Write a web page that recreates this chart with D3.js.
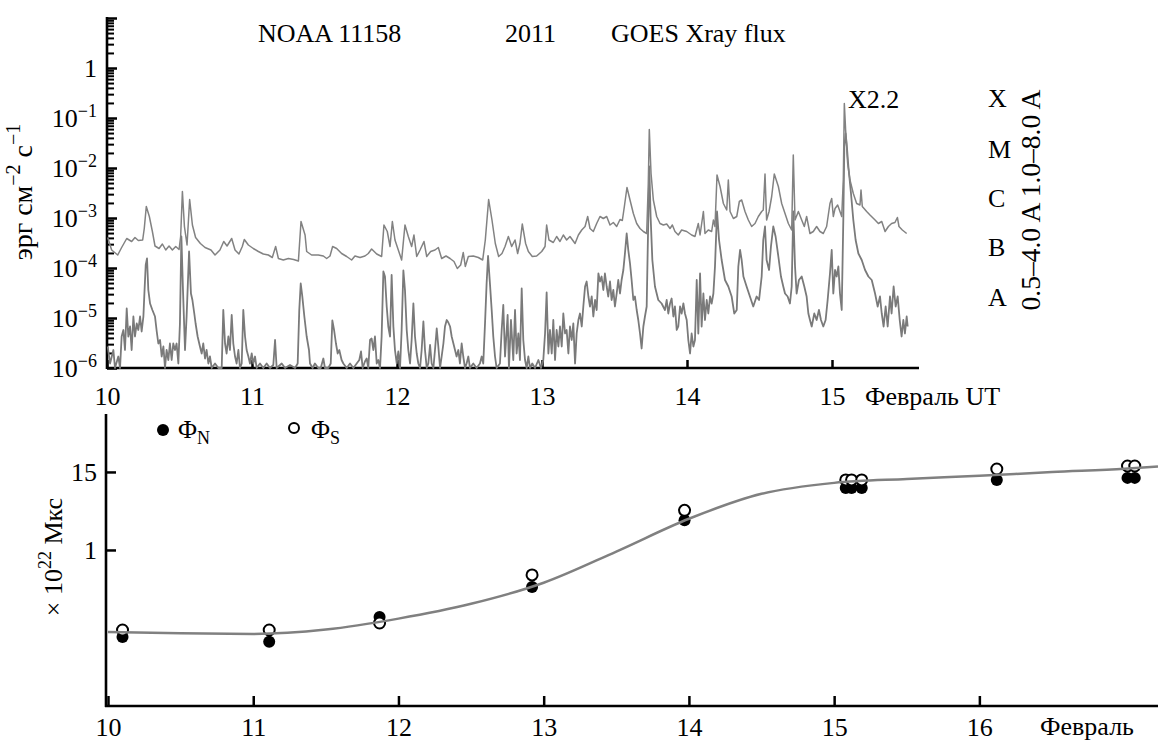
<!DOCTYPE html>
<html><head><meta charset="utf-8">
<script src="https://cdnjs.cloudflare.com/ajax/libs/d3/7.8.5/d3.min.js"></script>
<style>
body{margin:0;background:#fff}
text{font-family:"Liberation Serif","Times New Roman",serif;fill:#000}
</style>
</head><body>
<svg id="chart" width="1158" height="745"></svg>
<script>
// ---------- GOES X-ray flux, 1.0-8.0 A channel (day of Feb 2011, log10 flux erg cm^-2 s^-1)
const longDays = [10.005,10.032,10.074,10.101,10.136,10.170,10.193,10.216,10.246,10.257,10.271,10.292,10.313,10.331,10.359,10.382,10.405,10.428,10.451,10.474,10.497,10.508,10.520,10.534,10.552,10.570,10.589,10.611,10.644,10.676,10.717,10.745,10.779,10.805,10.828,10.860,10.883,10.910,10.933,10.947,10.975,11.009,11.044,11.078,11.113,11.140,11.163,11.182,11.216,11.251,11.287,11.320,11.338,11.366,
11.377,11.411,11.457,11.492,11.515,11.538,11.556,11.584,11.618,11.653,11.687,11.710,11.745,11.779,11.802,11.825,11.860,11.894,11.910,11.933,11.952,11.968,11.986,12.009,12.032,12.055,12.078,12.101,12.117,12.136,12.159,12.186,12.205,12.232,12.262,12.285,12.308,12.338,12.366,12.393,12.416,12.439,12.457,12.471,12.492,12.526,12.561,12.591,12.609,12.632,12.655,12.678,12.701,12.724,
12.745,12.768,12.791,12.814,12.832,12.848,12.864,12.887,12.906,12.933,12.963,12.998,13.021,13.032,13.048,13.078,13.101,13.124,13.147,13.170,13.193,13.228,13.251,13.274,13.297,13.315,13.331,13.354,13.377,13.400,13.423,13.446,13.469,13.492,13.515,13.538,13.554,13.568,13.586,13.607,13.630,13.653,13.676,13.699,13.722,13.733,13.740,13.752,13.768,13.791,13.814,13.837,13.860,13.883,13.899,13.917,13.940,13.963,13.998,14.032,14.055,
14.078,14.090,14.113,14.124,14.147,14.170,14.182,14.193,14.207,14.228,14.251,14.274,14.285,14.297,14.320,14.343,14.361,14.377,14.400,14.423,14.446,14.469,14.492,14.515,14.526,14.538,14.549,14.566,14.584,14.602,14.630,14.653,14.676,14.699,14.722,14.733,14.745,14.768,14.791,14.809,14.825,14.848,14.871,14.894,14.917,14.940,14.963,14.986,14.998,15.009,15.021,15.039,15.055,15.067,15.078,15.085,15.094,15.108,15.124,15.147,15.170,15.193,15.200,15.209,15.239,15.262,15.297,15.320,15.343,15.366,15.389,15.411,15.434,15.451,15.462,15.485,15.515];
const longLog = [-3.39,-3.64,-3.74,-3.59,-3.41,-3.47,-3.39,-3.45,-3.44,-3.21,-2.77,-2.97,-3.27,-3.56,-3.61,-3.52,-3.64,-3.56,-3.64,-3.57,-3.63,-3.37,-2.47,-3.17,-3.54,-2.63,-3.14,-3.39,-3.51,-3.59,-3.64,-3.74,-3.64,-3.47,-3.56,-3.41,-3.64,-3.72,-3.57,-3.43,-3.54,-3.61,-3.67,-3.72,-3.74,-3.79,-3.57,-3.81,-3.84,-3.81,-3.83,-3.86,-3.07,-3.34,
-3.67,-3.74,-3.74,-3.76,-3.81,-3.76,-3.57,-3.61,-3.71,-3.77,-3.84,-3.76,-3.79,-3.76,-3.71,-3.62,-3.72,-3.77,-3.14,-3.27,-3.57,-3.07,-3.44,-3.64,-3.84,-3.14,-3.37,-3.57,-3.34,-3.77,-3.64,-3.47,-3.77,-3.67,-3.64,-3.59,-3.81,-3.76,-3.81,-3.87,-4.01,-3.94,-3.69,-3.97,-3.77,-3.76,-3.79,-3.84,-3.44,-2.63,-3.04,-3.51,-3.77,-3.71,
-3.57,-3.37,-3.57,-3.44,-3.71,-3.51,-3.12,-3.51,-3.67,-3.77,-3.76,-3.67,-3.57,-3.14,-3.44,-3.49,-3.37,-3.47,-3.34,-3.44,-3.37,-3.51,-3.34,-3.24,-3.17,-2.97,-3.21,-3.27,-3.11,-2.97,-3.01,-2.97,-3.14,-3.09,-3.17,-3.03,-3.05,-2.77,-2.39,-2.64,-2.91,-3.11,-3.21,-3.27,-3.31,-2.31,-1.23,-2.11,-2.64,-2.97,-3.11,-3.14,-3.12,-3.21,-3.14,-3.27,-3.34,-3.24,-3.27,-3.34,-3.37,
-3.11,-3.34,-2.87,-3.31,-3.24,-3.27,-3.04,-3.17,-2.14,-2.37,-2.71,-2.84,-2.24,-2.87,-3.01,-2.97,-2.67,-2.64,-2.87,-3.04,-3.17,-3.11,-2.97,-2.87,-2.84,-2.12,-3.04,-2.87,-2.57,-2.12,-2.37,-2.71,-2.91,-3.11,-3.24,-1.74,-3.04,-2.87,-3.04,-3.17,-2.97,-3.31,-3.27,-3.17,-3.27,-3.31,-3.17,-2.71,-2.61,-2.97,-2.81,-2.74,-2.87,-2.97,-2.24,-0.71,-1.24,-1.91,-2.24,-2.51,-2.71,-2.74,-2.44,-2.77,-2.87,-2.94,-3.04,-3.11,-3.07,-3.27,-3.17,-3.11,-3.09,-2.99,-3.17,-3.24,-3.31];

// ---------- GOES X-ray flux, 0.5-4.0 A channel
const shortDays = [10.005,10.021,10.044,10.055,10.078,10.090,10.101,10.113,10.124,10.136,10.147,10.159,10.170,10.182,10.193,10.205,10.216,10.228,10.239,10.251,10.257,10.267,10.276,10.285,10.297,10.313,10.331,10.343,10.354,10.366,10.377,10.389,10.400,10.411,10.423,10.434,10.446,10.457,10.469,10.480,10.492,10.503,10.513,10.524,10.538,10.549,10.566,10.579,10.589,10.602,10.611,10.625,10.641,10.653,10.664,10.676,10.687,10.699,10.710,10.722,10.745,10.768,10.791,10.802,10.814,10.825,10.837,10.848,10.860,10.871,10.883,10.894,10.906,10.917,10.929,10.940,10.952,10.963,10.975,10.986,10.998,11.009,11.021,11.032,11.055,11.078,11.101,11.124,11.147,11.159,11.170,11.205,11.228,11.262,11.297,11.315,11.326,11.336,11.347,11.361,11.377,11.393,
11.400,11.418,11.434,11.457,11.474,11.492,11.503,11.526,11.543,11.554,11.566,11.579,11.591,11.602,11.618,11.630,11.653,11.676,11.699,11.722,11.740,11.752,11.763,11.779,11.791,11.802,11.814,11.825,11.837,11.848,11.860,11.871,11.883,11.894,11.906,11.917,11.929,11.940,11.952,11.963,11.975,11.986,11.998,12.009,12.021,12.032,12.044,12.055,12.067,12.078,12.090,12.101,12.113,12.124,12.136,12.147,12.159,12.170,12.182,12.193,12.205,12.216,12.228,12.239,12.251,12.262,12.274,12.285,12.297,12.308,12.320,12.331,12.343,12.354,12.366,12.377,12.389,12.400,12.411,12.423,12.434,12.446,12.457,12.469,12.480,12.492,12.503,12.526,12.549,12.572,12.584,12.595,12.607,12.618,12.628,12.641,12.653,12.664,12.676,12.687,12.710,12.722,12.733,
12.745,12.763,12.772,12.786,12.802,12.814,12.825,12.837,12.848,12.860,12.871,12.883,12.894,12.906,12.917,12.933,12.952,12.975,12.993,13.009,13.021,13.032,13.044,13.055,13.067,13.078,13.090,13.101,13.113,13.124,13.136,13.147,13.159,13.170,13.182,13.193,13.205,13.216,13.228,13.239,13.251,13.262,13.274,13.285,13.297,13.308,13.320,13.331,13.343,13.354,13.366,13.377,13.389,13.400,13.411,13.423,13.434,13.446,13.457,13.469,13.480,13.492,13.503,13.515,13.526,13.538,13.549,13.561,13.572,13.584,13.595,13.607,13.618,13.630,13.641,13.653,13.664,13.676,13.687,13.699,13.710,13.722,13.729,13.736,13.740,13.749,13.761,13.779,13.802,13.825,13.848,13.860,13.871,13.883,13.894,13.906,13.917,13.929,13.940,13.952,13.963,13.975,13.986,13.998,14.009,14.021,14.032,14.044,14.055,
14.067,14.078,14.090,14.101,14.113,14.124,14.136,14.147,14.159,14.170,14.182,14.193,14.207,14.221,14.239,14.262,14.285,14.308,14.326,14.343,14.354,14.366,14.377,14.389,14.411,14.434,14.457,14.480,14.497,14.515,14.526,14.538,14.549,14.566,14.579,14.595,14.611,14.630,14.648,14.664,14.676,14.694,14.710,14.722,14.733,14.745,14.756,14.772,14.791,14.809,14.825,14.837,14.848,14.860,14.878,14.894,14.910,14.924,14.940,14.956,14.970,14.986,14.998,15.009,15.021,15.032,15.044,15.055,15.067,15.078,15.085,15.094,15.101,15.113,15.131,15.147,15.163,15.182,15.205,15.228,15.251,15.274,15.297,15.315,15.331,15.343,15.356,15.370,15.384,15.400,15.411,15.425,15.439,15.453,15.467,15.480,15.492,15.503,15.515,15.522];
const shortLog = [-5.57,-5.91,-5.64,-6.0,-5.77,-6.0,-5.37,-5.24,-5.64,-4.81,-5.37,-5.17,-5.64,-4.97,-5.37,-5.11,-5.24,-4.97,-5.27,-4.97,-4.57,-3.94,-3.81,-4.44,-4.71,-4.84,-4.97,-5.27,-5.51,-5.44,-5.77,-5.57,-6.0,-5.64,-5.84,-5.51,-5.84,-5.51,-5.64,-5.51,-5.91,-5.11,-3.37,-4.44,-5.64,-4.97,-3.67,-4.51,-4.64,-4.91,-5.11,-5.37,-5.57,-5.71,-5.51,-5.81,-5.64,-5.91,-5.77,-6.0,-5.91,-6.0,-6.0,-4.84,-5.51,-5.71,-5.37,-5.64,-4.94,-5.51,-5.77,-5.91,-5.64,-6.0,-5.91,-4.84,-5.37,-5.64,-5.77,-5.91,-5.71,-5.91,-5.77,-6.0,-5.91,-6.0,-5.91,-6.0,-5.94,-5.44,-6.0,-5.91,-6.0,-5.94,-6.0,-5.91,-4.84,-4.31,-4.57,-4.97,-5.37,-5.64,
-5.91,-6.0,-5.91,-6.0,-6.0,-5.81,-6.0,-6.0,-5.91,-5.05,-5.24,-5.51,-5.71,-5.64,-5.84,-5.91,-6.0,-5.91,-6.0,-5.91,-5.84,-5.67,-6.0,-5.87,-5.81,-6.0,-5.44,-5.41,-5.64,-5.37,-5.91,-5.84,-6.0,-5.37,-4.07,-4.17,-4.77,-5.17,-5.37,-4.14,-5.17,-5.64,-5.91,-5.67,-6.0,-5.24,-4.05,-4.44,-5.24,-5.64,-5.91,-5.44,-4.71,-5.37,-5.71,-5.91,-6.0,-5.64,-5.07,-5.64,-6.0,-5.91,-5.54,-5.91,-6.0,-5.64,-5.21,-5.57,-6.0,-5.77,-5.51,-5.17,-5.04,-5.09,-5.17,-5.37,-5.51,-5.64,-5.77,-5.64,-5.91,-5.51,-5.77,-6.0,-5.91,-5.77,-6.0,-5.91,-6.0,-5.91,-5.77,-5.91,-5.11,-4.31,-3.76,-4.31,-4.84,-5.37,-5.77,-6.0,-5.91,-5.24,-4.74,
-5.77,-4.94,-6.0,-5.04,-5.84,-4.84,-5.71,-5.31,-5.84,-4.41,-5.44,-5.84,-6.0,-5.77,-6.0,-5.91,-6.0,-5.84,-6.0,-5.84,-5.31,-4.49,-5.71,-5.24,-5.71,-5.04,-5.84,-5.24,-5.57,-5.17,-5.57,-4.91,-5.31,-5.24,-5.71,-5.17,-5.44,-5.11,-5.91,-5.31,-5.04,-4.91,-5.17,-4.77,-4.37,-4.27,-4.57,-4.77,-4.57,-4.97,-4.64,-4.84,-4.11,-4.27,-4.17,-4.44,-4.11,-4.37,-4.57,-4.27,-4.64,-4.44,-4.77,-4.51,-4.24,-4.51,-4.24,-4.04,-3.71,-3.31,-3.64,-3.91,-4.24,-4.64,-4.57,-4.84,-5.04,-5.31,-5.61,-5.17,-4.97,-4.77,-3.64,-2.6,-1.97,-2.97,-3.84,-4.37,-4.64,-4.71,-4.84,-4.64,-4.91,-4.71,-4.61,-4.97,-4.77,-5.24,-5.17,-4.77,-4.91,-4.71,-4.91,-5.04,-5.44,-5.71,-5.31,-5.57,-5.44,
-4.24,-5.31,-4.11,-5.17,-4.51,-5.04,-4.64,-4.91,-4.57,-4.71,-4.51,-3.97,-2.87,-3.44,-3.84,-4.24,-4.37,-4.57,-4.91,-4.84,-3.97,-3.64,-3.84,-4.17,-4.37,-4.57,-4.77,-4.57,-4.64,-4.17,-3.44,-3.17,-3.84,-4.04,-3.57,-3.17,-3.37,-3.77,-4.17,-4.37,-4.51,-4.57,-4.71,-4.37,-2.87,-3.97,-4.51,-4.24,-4.17,-4.37,-4.57,-4.91,-5.04,-5.17,-4.91,-5.04,-4.84,-5.04,-5.17,-5.04,-4.64,-4.11,-3.64,-4.51,-4.04,-4.17,-3.97,-4.51,-4.84,-3.04,-1.57,-1.31,-1.51,-1.97,-2.51,-3.04,-3.44,-3.71,-3.84,-4.04,-4.17,-4.24,-4.51,-4.77,-4.57,-4.91,-5.17,-4.77,-5.17,-4.57,-4.91,-4.37,-4.77,-4.57,-5.04,-5.37,-5.04,-5.31,-4.97,-5.17];

const topDayTicks = [10, 11, 12, 13, 14, 15];
const topLogTicks = [-6, -5, -4, -3, -2, -1, 0, 1];
const classLetters = ["X", "M", "C", "B", "A"];

// ---------- magnetic flux (x 10^22 Mx)
const fluxDays = [10.10, 11.11, 11.87, 12.92, 13.97, 15.08, 15.12, 15.19, 16.12, 17.02, 17.07];
const fluxN    = [0.442, 0.412, 0.571, 0.763, 1.19, 1.397, 1.397, 1.397, 1.449, 1.462, 1.462];
const fluxS    = [0.487, 0.487, 0.532, 0.840, 1.254, 1.449, 1.449, 1.449, 1.519, 1.538, 1.538];
const fitDays  = [10.0, 10.5, 11.0, 11.5, 12.0, 12.5, 13.0, 13.5, 14.0, 14.5, 15.0, 15.5, 16.0, 16.5, 17.0, 17.23];
const fitFlux  = [0.474, 0.466, 0.462, 0.49, 0.56, 0.655, 0.79, 0.99, 1.2, 1.36, 1.43, 1.455, 1.475, 1.5, 1.52, 1.535];
const bottomDayTicks = [10, 11, 12, 13, 14, 15, 16];
const fluxTicks = [1, 1.5];
const fluxTickLabels = ["1", "15"];

// ---------- drawing
const svg = d3.select("#chart");
const FS = 26;

// ===== top panel =====
const xTop = d3.scaleLinear().domain([10, 15.6]).range([107, 919]);
const yTop = d3.scaleLog().domain([1e-6, 10]).range([368, 18]);

const minor = [];
for (let e = -6; e < 1; e++) for (let m = 2; m <= 9; m++) minor.push(m * Math.pow(10, e));
svg.append("g").attr("transform", "translate(107,0)")
  .call(d3.axisLeft(yTop).tickValues(minor).tickSize(-7).tickFormat(""))
  .call(g => g.select(".domain").remove())
  .selectAll("line").attr("stroke", "#000").attr("stroke-width", 2);
svg.append("g").attr("transform", "translate(107,0)")
  .call(d3.axisLeft(yTop).tickValues(topLogTicks.map(e => Math.pow(10, e))).tickSize(-10).tickFormat(""))
  .call(g => g.select(".domain").remove())
  .selectAll("line").attr("stroke", "#000").attr("stroke-width", 2.5);

topLogTicks.filter(e => e <= 0).forEach(e => {
  const t = svg.append("text").attr("x", 97).attr("y", yTop(Math.pow(10, e)) + 9)
    .attr("text-anchor", "end").attr("font-size", FS);
  if (e === 0) { t.text("1"); return; }
  t.append("tspan").text("10");
  t.append("tspan").attr("font-size", 18).attr("dy", -10).text("\u2212" + (-e));
});

svg.append("g").attr("transform", "translate(0,368)")
  .call(d3.axisBottom(xTop).tickValues(topDayTicks).tickSize(-8).tickPadding(19).tickFormat(d3.format("d")))
  .call(g => g.select(".domain").remove())
  .call(g => g.selectAll("line").attr("stroke", "#000").attr("stroke-width", 2.5))
  .call(g => g.selectAll("text").attr("font-size", FS).attr("fill", "#000"));
svg.append("line").attr("x1", 107).attr("x2", 919).attr("y1", 368).attr("y2", 368).attr("stroke", "#000").attr("stroke-width", 2.6);
svg.append("line").attr("x1", 107).attr("x2", 107).attr("y1", 17).attr("y2", 369).attr("stroke", "#000").attr("stroke-width", 2.6);

const topLine = d3.line().x(d => xTop(d[0])).y(d => yTop(Math.pow(10, d[1])));
svg.append("path").datum(shortDays.map((d, i) => [d, shortLog[i]]))
  .attr("d", topLine).attr("fill", "none").attr("stroke", "#7a7a7a").attr("stroke-width", 1.8).attr("stroke-linejoin", "round");
svg.append("path").datum(longDays.map((d, i) => [d, longLog[i]]))
  .attr("d", topLine).attr("fill", "none").attr("stroke", "#828282").attr("stroke-width", 1.5).attr("stroke-linejoin", "round");

svg.append("text").attr("x", 258).attr("y", 42).attr("font-size", FS).text("NOAA 11158");
svg.append("text").attr("x", 505).attr("y", 42).attr("font-size", FS).text("2011");
svg.append("text").attr("x", 611).attr("y", 42).attr("font-size", FS).text("GOES Xray flux");
svg.append("text").attr("x", 848).attr("y", 108).attr("font-size", FS).text("X2.2");
svg.append("text").attr("x", 865).attr("y", 405).attr("font-size", FS).text("Февраль UT");
const letterY = [107, 158, 207, 256, 306];
classLetters.forEach((c, i) => svg.append("text").attr("x", 988).attr("y", letterY[i]).attr("font-size", FS).text(c));
svg.append("text").attr("transform", "translate(1040,200) rotate(-90)").attr("text-anchor", "middle")
  .attr("font-size", 27.5).text("0.5\u20134.0 A 1.0\u20138.0 A");
const yl = svg.append("text").attr("transform", "translate(32,192) rotate(-90)").attr("text-anchor", "middle").attr("font-size", 28);
yl.append("tspan").text("эрг см");
yl.append("tspan").attr("font-size", 20).attr("dy", -12).text("\u22122");
yl.append("tspan").attr("dy", 12).text(" с");
yl.append("tspan").attr("font-size", 20).attr("dy", -12).text("\u22121");

// ===== bottom panel =====
const xBot = d3.scaleLinear().domain([10, 17.23]).range([108, 1158]);
const yBot = d3.scaleLinear().domain([0, 1.865]).range([706, 415]);

svg.append("g").attr("transform", "translate(0,706)")
  .call(d3.axisBottom(xBot).tickValues(bottomDayTicks).tickSize(-10).tickPadding(12).tickFormat(d3.format("d")))
  .call(g => g.select(".domain").remove())
  .call(g => g.selectAll("line").attr("stroke", "#000").attr("stroke-width", 2.5))
  .call(g => g.selectAll("text").attr("font-size", FS).attr("fill", "#000"));
svg.append("g").attr("transform", "translate(106,0)")
  .call(d3.axisLeft(yBot).tickValues(fluxTicks).tickSize(-10).tickPadding(9).tickFormat((d, i) => fluxTickLabels[i]))
  .call(g => g.select(".domain").remove())
  .call(g => g.selectAll("line").attr("stroke", "#000").attr("stroke-width", 2.5))
  .call(g => g.selectAll("text").attr("font-size", FS).attr("fill", "#000"));
svg.append("line").attr("x1", 105).attr("x2", 1158).attr("y1", 706).attr("y2", 706).attr("stroke", "#000").attr("stroke-width", 2.6);
svg.append("line").attr("x1", 106).attr("x2", 106).attr("y1", 414).attr("y2", 707).attr("stroke", "#000").attr("stroke-width", 2.6);

svg.append("g").selectAll("circle").data(fluxDays).join("circle")
  .attr("cx", d => xBot(d)).attr("cy", (d, i) => yBot(fluxN[i])).attr("r", 6).attr("fill", "#000");
svg.append("g").selectAll("circle").data(fluxDays).join("circle")
  .attr("cx", d => xBot(d)).attr("cy", (d, i) => yBot(fluxS[i])).attr("r", 5.5)
  .attr("fill", "#fff").attr("stroke", "#000").attr("stroke-width", 2);
svg.append("path").datum(fitDays.map((d, i) => [d, fitFlux[i]]))
  .attr("d", d3.line().x(d => xBot(d[0])).y(d => yBot(d[1])).curve(d3.curveMonotoneX))
  .attr("fill", "none").attr("stroke", "#808080").attr("stroke-width", 2.5);

svg.append("text").attr("x", 1040).attr("y", 735).attr("font-size", FS).text("Февраль");
const yl2 = svg.append("text").attr("transform", "translate(62,557) rotate(-90)").attr("text-anchor", "middle").attr("font-size", FS);
yl2.append("tspan").text("\u00d7 10");
yl2.append("tspan").attr("font-size", 18).attr("dy", -11).text("22");
yl2.append("tspan").attr("dy", 11).text(" Мкс");

svg.append("circle").attr("cx", 163).attr("cy", 430).attr("r", 6).attr("fill", "#000");
const l1 = svg.append("text").attr("x", 178).attr("y", 438).attr("font-size", FS);
l1.append("tspan").text("Φ"); l1.append("tspan").attr("font-size", 18).attr("dy", 6).text("N");
svg.append("circle").attr("cx", 294).attr("cy", 428).attr("r", 5).attr("fill", "#fff").attr("stroke", "#000").attr("stroke-width", 2);
const l2 = svg.append("text").attr("x", 311).attr("y", 438).attr("font-size", FS);
l2.append("tspan").text("Φ"); l2.append("tspan").attr("font-size", 18).attr("dy", 6).text("S");
</script>
</body></html>
